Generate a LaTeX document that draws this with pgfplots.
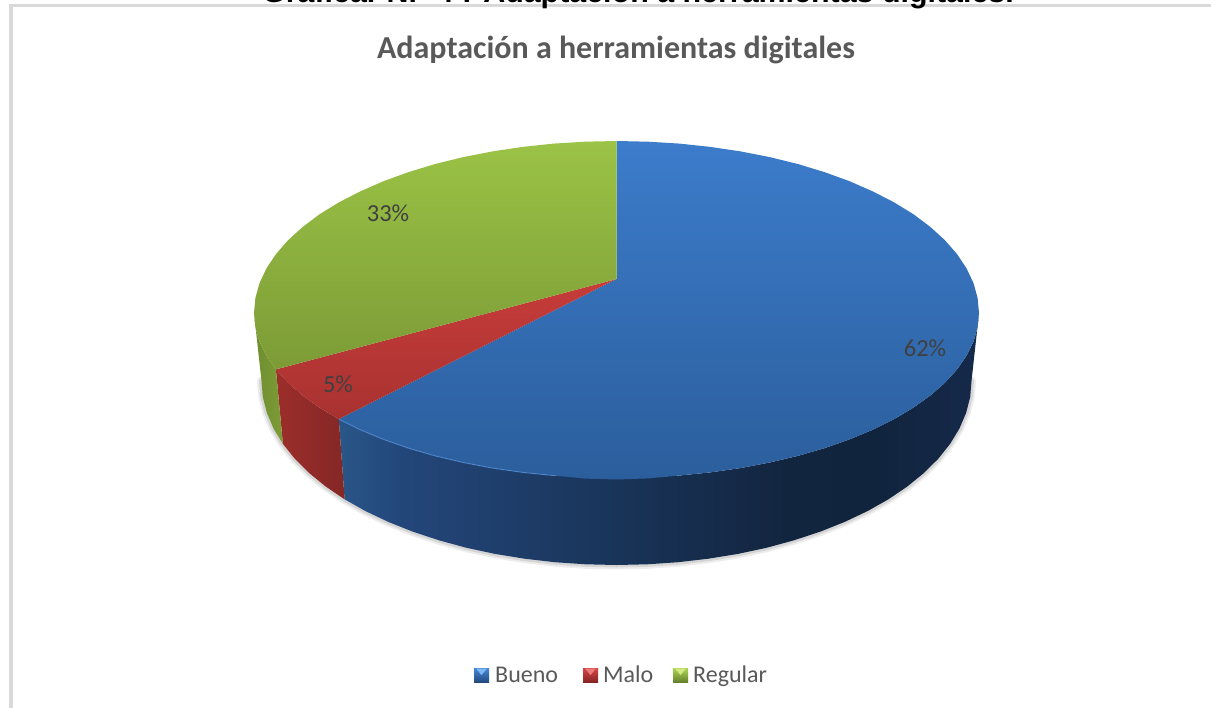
\documentclass[border=0pt]{standalone}
\usepackage{fontspec}
\setmainfont{Carlito}
\newfontfamily\headfont{Liberation Sans}
\usepackage{pgfplots}
\pgfplotsset{compat=1.18}

\definecolor{txt}{HTML}{595959}
\definecolor{lbl}{HTML}{404040}
\definecolor{frame}{HTML}{D9D9D9}
\definecolor{bs0}{HTML}{2A5688}
\definecolor{bs1}{HTML}{23467A}
\definecolor{bs2}{HTML}{1A365C}
\definecolor{bs3}{HTML}{12253F}
\definecolor{bs4}{HTML}{11243E}
\definecolor{bs5}{HTML}{15294A}
\definecolor{rs1}{HTML}{9C2E2B}
\definecolor{rs2}{HTML}{842725}
\definecolor{gs1}{HTML}{6F8D2F}
\definecolor{gs2}{HTML}{7D9C36}
\definecolor{btop}{HTML}{3C7CCB}
\definecolor{bbot}{HTML}{2B5E9C}
\definecolor{rtop}{HTML}{C63C3A}
\definecolor{rbot}{HTML}{A83230}
\definecolor{gtop}{HTML}{9BC346}
\definecolor{gbot}{HTML}{7C9B36}
\definecolor{brim}{HTML}{508CD7}
\definecolor{lb1}{HTML}{4687D7}
\definecolor{lb2}{HTML}{234B82}
\definecolor{lr1}{HTML}{D74646}
\definecolor{lr2}{HTML}{872323}
\definecolor{lg1}{HTML}{AFD750}
\definecolor{lg2}{HTML}{64822D}
\definecolor{lb3}{HTML}{7DB8F2}
\definecolor{lr3}{HTML}{EC7C7C}
\definecolor{lg3}{HTML}{D2EA82}
\pgfdeclarehorizontalshading{blueside}{100bp}{
  color(0bp)=(bs0); color(25bp)=(bs0); color(30bp)=(bs1); color(45bp)=(bs2);
  color(60bp)=(bs3); color(67bp)=(bs4); color(75bp)=(bs5); color(100bp)=(bs5)}
\pgfdeclarehorizontalshading{redside}{100bp}{
  color(0bp)=(rs1); color(25bp)=(rs1); color(75bp)=(rs2); color(100bp)=(rs2)}
\pgfdeclarehorizontalshading{greenside}{100bp}{
  color(0bp)=(gs1); color(25bp)=(gs1); color(75bp)=(gs2); color(100bp)=(gs2)}

\begin{document}
\begin{tikzpicture}
\path[use as bounding box, clip] (0,0) rectangle (1211bp,708bp);
\begin{axis}[
  at={(0,0)}, anchor=south west,
  scale only axis, width=1211bp, height=708bp,
  xmin=0, xmax=1211, ymin=0, ymax=708, y dir=reverse,
  hide axis, clip=false,
]
% frame of the pasted chart
\addplot[frame, line width=2.5bp] coordinates {(9,5.5) (1211,5.5)};
\addplot[frame, line width=4bp] coordinates {(11,5.5) (11,708)};

% soft shadow under the pie
\addplot[black, opacity=0.07, line width=9bp, line cap=round] coordinates {
(261.5,381) (262.8,397) (266.9,412.9) (273.6,428.6) (282.9,443.9) (294.8,458.8) (309.1,473) (325.7,486.5) (344.6,499.3) (365.5,511.1) (388.3,521.9) (412.9,531.7) (439,540.3) (466.5,547.8) (495.1,553.9) (524.6,558.7) (554.9,562.2) (585.5,564.3) (616.5,565) (647.5,564.3) (678.1,562.2) (708.4,558.7) (737.9,553.9) (766.5,547.8) (794,540.3) (820.1,531.7) (844.7,521.9) (867.5,511.1) (888.4,499.3) (907.3,486.5) (923.9,473) (938.2,458.8) (950.1,443.9) (959.4,428.6) (966.1,412.9) (970.2,397) (971.5,381)};
\addplot[black, opacity=0.10, line width=5bp, line cap=round] coordinates {
(261.5,381) (262.8,397) (266.9,412.9) (273.6,428.6) (282.9,443.9) (294.8,458.8) (309.1,473) (325.7,486.5) (344.6,499.3) (365.5,511.1) (388.3,521.9) (412.9,531.7) (439,540.3) (466.5,547.8) (495.1,553.9) (524.6,558.7) (554.9,562.2) (585.5,564.3) (616.5,565) (647.5,564.3) (678.1,562.2) (708.4,558.7) (737.9,553.9) (766.5,547.8) (794,540.3) (820.1,531.7) (844.7,521.9) (867.5,511.1) (888.4,499.3) (907.3,486.5) (923.9,473) (938.2,458.8) (950.1,443.9) (959.4,428.6) (966.1,412.9) (970.2,397) (971.5,381)};

% side walls
\addplot[shading=blueside, draw=none] coordinates {
(979,313) (977.6,327.4) (973.5,341.6) (966.6,355.7) (957.1,369.4) (945,382.7) (930.4,395.5) (913.5,407.6) (894.2,419.1) (872.8,429.7) (849.5,439.4) (824.4,448.2) (797.8,455.9) (769.7,462.5) (740.5,468.1) (710.3,472.4) (679.4,475.5) (648.1,477.4) (616.5,478) (584.9,477.4) (553.6,475.5) (522.7,472.4) (492.5,468.1) (463.3,462.5) (435.2,455.9) (408.6,448.2) (383.5,439.4) (360.2,429.7) (338.8,419.1)
(344.6,499.3) (365.5,511.1) (388.3,521.9) (412.9,531.7) (439,540.3) (466.5,547.8) (495.1,553.9) (524.6,558.7) (554.9,562.2) (585.5,564.3) (616.5,565) (647.5,564.3) (678.1,562.2) (708.4,558.7) (737.9,553.9) (766.5,547.8) (794,540.3) (820.1,531.7) (844.7,521.9) (867.5,511.1) (888.4,499.3) (907.3,486.5) (923.9,473) (938.2,458.8) (950.1,443.9) (959.4,428.6) (966.1,412.9) (970.2,397) (971.5,381)} -- cycle;
\addplot[shading=redside, draw=none] coordinates {
(338.8,419.1) (319.5,407.6) (302.6,395.5) (288,382.7) (275.9,369.4)
(282.9,443.9) (294.8,458.8) (309.1,473) (325.7,486.5) (344.6,499.3)} -- cycle;
\addplot[shading=greenside, draw=none] coordinates {
(275.9,369.4) (266.4,355.7) (259.5,341.6) (255.4,327.4) (254,313)
(261.5,381) (262.8,397) (266.9,412.9) (273.6,428.6) (282.9,443.9)} -- cycle;

% top face: Bueno 62, Malo 5, Regular 33
\addplot[shade, top color=btop, bottom color=bbot, draw=none] coordinates {
(616.5,279) (616.5,141) (648.1,141.7) (679.4,143.6) (710.3,146.9) (740.5,151.4) (769.7,157.1) (797.8,164) (824.4,172.1) (849.5,181.2) (872.8,191.4) (894.2,202.4) (913.5,214.3) (930.4,227) (945,240.3) (957.1,254.2) (966.6,268.5) (973.5,283.1) (977.6,298) (979,313)
(977.6,327.4) (973.5,341.6) (966.6,355.7) (957.1,369.4) (945,382.7) (930.4,395.5) (913.5,407.6) (894.2,419.1) (872.8,429.7) (849.5,439.4) (824.4,448.2) (797.8,455.9) (769.7,462.5) (740.5,468.1) (710.3,472.4) (679.4,475.5) (648.1,478.4) (616.5,479.5) (584.9,478.6) (553.6,475.5) (522.7,472.4) (492.5,468.1) (463.3,462.5) (435.2,455.9) (408.6,448.2) (383.5,439.4) (360.2,429.7) (338.8,419.1)} -- cycle;
\addplot[shade, top color=rtop, bottom color=rbot, draw=none] coordinates {
(616.5,279) (338.8,419.1) (319.5,407.6) (302.6,395.5) (288,382.7) (275.9,369.4)} -- cycle;
\addplot[shade, top color=gtop, bottom color=gbot, draw=none] coordinates {
(616.5,279) (275.9,369.4) (266.4,355.7) (259.5,341.6) (255.4,327.4) (254,313) (255.4,298) (259.5,283.1) (266.4,268.5) (275.9,254.2) (288,240.3) (302.6,227) (319.5,214.3) (338.8,202.4) (360.2,191.4) (383.5,181.2) (408.6,172.1) (435.2,164) (463.3,157.1) (492.5,151.4) (522.7,146.9) (553.6,143.6) (584.9,141.7) (616.5,141)} -- cycle;

% lighter rim along the front edge
\addplot[brim, opacity=0.6, line width=1.2bp] coordinates {
(338.8,419.1) (360.2,429.7) (383.5,439.4) (408.6,448.2) (435.2,455.9) (463.3,462.5) (492.5,468.1) (522.7,472.4) (553.6,475.5)};

% legend swatches
\addplot[shade, top color=lb1, bottom color=lb2, draw=none] coordinates {(474,668) (489,668) (489,682) (474,682)} -- cycle;
\addplot[lb3, fill=lb3, draw=none] coordinates {(476,668.5) (487,668.5) (481.5,675)} -- cycle;
\addplot[shade, top color=lr1, bottom color=lr2, draw=none] coordinates {(583,668) (598,668) (598,682) (583,682)} -- cycle;
\addplot[lr3, fill=lr3, draw=none] coordinates {(585,668.5) (596,668.5) (590.5,675)} -- cycle;
\addplot[shade, top color=lg1, bottom color=lg2, draw=none] coordinates {(673,668) (688,668) (688,682) (673,682)} -- cycle;
\addplot[lg3, fill=lg3, draw=none] coordinates {(675,668.5) (686,668.5) (680.5,675)} -- cycle;

\node[font=\headfont\bfseries\fontsize{30.4bp}{31bp}\selectfont, anchor=base, black] at (axis cs:638,3) {Gráfica. N.º 4 : Adaptación a herramientas digitales.};
\node[font=\bfseries\fontsize{32bp}{32bp}\selectfont, text=txt, anchor=base] at (axis cs:616,59) {Adaptación a herramientas digitales};

\node[font=\fontsize{24.5bp}{24bp}\selectfont, text=lbl] at (axis cs:388,213) {33\%};
\node[font=\fontsize{24.5bp}{24bp}\selectfont, text=lbl] at (axis cs:925,348) {62\%};
\node[font=\fontsize{24.5bp}{24bp}\selectfont, text=lbl] at (axis cs:338,384) {5\%};

\node[font=\fontsize{24bp}{24bp}\selectfont, text=txt, anchor=base west, inner sep=0pt] at (axis cs:495,682) {Bueno};
\node[font=\fontsize{24bp}{24bp}\selectfont, text=txt, anchor=base west, inner sep=0pt] at (axis cs:603,682) {Malo};
\node[font=\fontsize{24bp}{24bp}\selectfont, text=txt, anchor=base west, inner sep=0pt] at (axis cs:693,682) {Regular};
\end{axis}
\end{tikzpicture}
\end{document}
